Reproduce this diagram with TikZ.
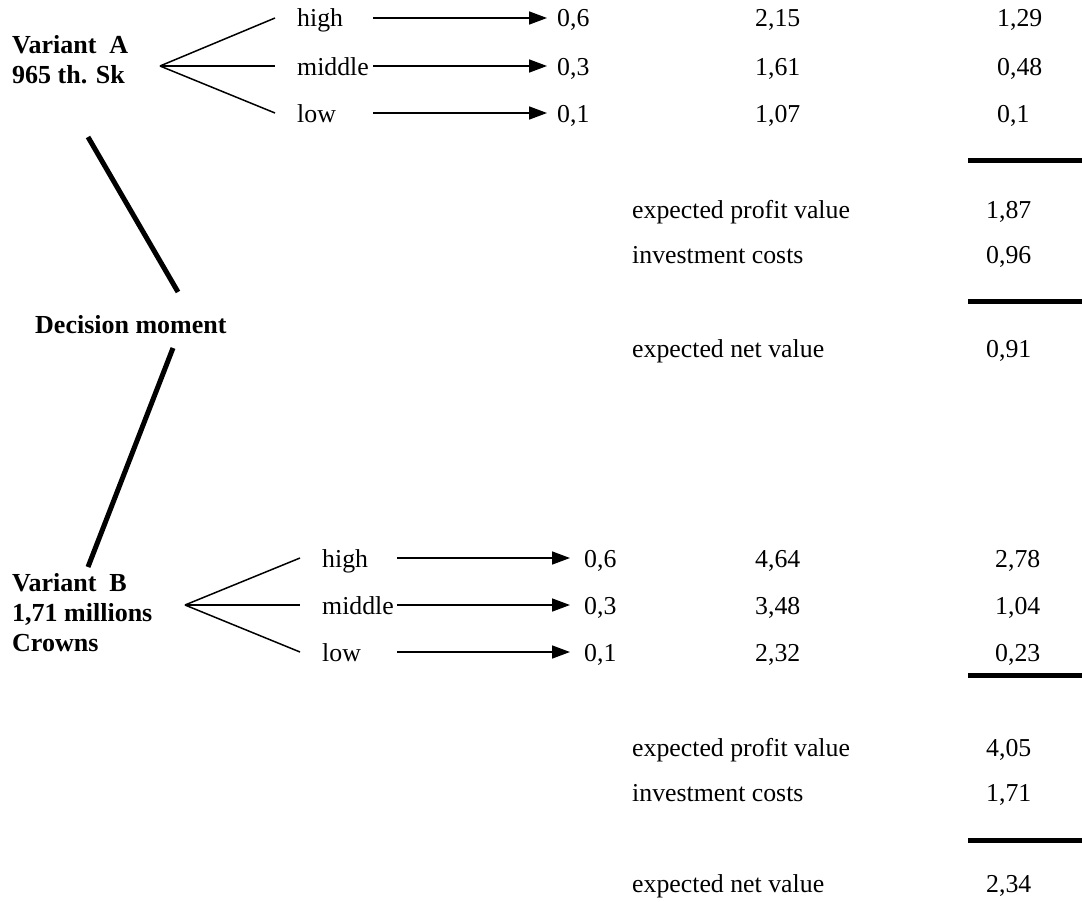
\documentclass[tikz,border=0pt]{standalone}
\usepackage{fontspec}
\setmainfont{Liberation Serif}
\usetikzlibrary{arrows.meta}
\begin{document}
\begin{tikzpicture}[x=1pt,y=-1pt,
  every node/.style={inner sep=0pt, font=\fontsize{25.8}{30}\selectfont},
  lbl/.style={anchor=base west},
  boldlbl/.style={anchor=base west, font=\fontsize{26}{30}\selectfont\bfseries},
  cell/.style={anchor=west, text height=20pt, text depth=2pt},
  prob/.style={cell, inner xsep=10pt},
  fork/.style={line width=1.5pt},
  arr/.style={line width=1.6pt, -{Triangle[length=18pt,width=13pt]}},
  thick line/.style={line width=5pt},
  rulebar/.style={line width=5pt}
]
\useasboundingbox (0,0) rectangle (1082,902);

% ---------- Variant A ----------
\node[boldlbl] (vA1) at (12,53) {Variant\ \ A};
\node[boldlbl] (vA2) at (12,83) {965 th. Sk};
\coordinate (apA) at (160,66);
\coordinate (fA1) at (275,18);
\coordinate (fA2) at (275,66);
\coordinate (fA3) at (275,113);
\draw[fork] (apA) -- (fA1);
\draw[fork] (apA) -- (fA2);
\draw[fork] (apA) -- (fA3);

\node[cell] (hA) at (297,18) {\makebox[76pt][l]{high}};
\node[cell] (mA) at (297,66) {\makebox[76pt][l]{middle}};
\node[cell] (lA) at (297,113) {\makebox[76pt][l]{low}};
\node[prob] (phA) at (547,18) {0,6};
\node[prob] (pmA) at (547,66) {0,3};
\node[prob] (plA) at (547,113) {0,1};
\draw[arr] (hA.east) -- (phA.west);
\draw[arr] (mA.east) -- (pmA.west);
\draw[arr] (lA.east) -- (plA.west);

\node[cell] (vhA) at (755,18) {2,15};
\node[cell] (vmA) at (755,66) {1,61};
\node[cell] (vlA) at (755,113) {1,07};
\node[cell] (ehA) at (997,18) {1,29};
\node[cell] (emA) at (997,66) {0,48};
\node[cell] (elA) at (997,113) {0,1};

\coordinate (rA1s) at (968,160);
\coordinate (rA1e) at (1082,160);
\draw[rulebar] (rA1s) -- (rA1e);
\node[lbl] (epA) at (632,218) {expected profit value};
\node[lbl] (epAv) at (986,218) {1,87};
\node[lbl] (icA) at (632,263) {investment costs};
\node[lbl] (icAv) at (986,263) {0,96};
\coordinate (rA2s) at (968,301);
\coordinate (rA2e) at (1082,301);
\draw[rulebar] (rA2s) -- (rA2e);
\node[lbl] (nvA) at (632,357) {expected net value};
\node[lbl] (nvAv) at (986,357) {0,91};

% ---------- Decision moment ----------
\node[boldlbl] (dm) at (35,333) {Decision moment};
\coordinate (t1) at (88,137);
\coordinate (t2) at (178,292);
\coordinate (t3) at (173,348);
\coordinate (t4) at (88,567);
\draw[thick line] (t1) -- (t2);
\draw[thick line] (t3) -- (t4);

% ---------- Variant B ----------
\node[boldlbl] (vB1) at (12,591) {Variant\ \ B};
\node[boldlbl] (vB2) at (12,621) {1,71 millions};
\node[boldlbl] (vB3) at (12,651) {Crowns};
\coordinate (apB) at (185,605);
\coordinate (fB1) at (300,558);
\coordinate (fB2) at (300,605);
\coordinate (fB3) at (300,652);
\draw[fork] (apB) -- (fB1);
\draw[fork] (apB) -- (fB2);
\draw[fork] (apB) -- (fB3);

\node[cell] (hB) at (322,558) {\makebox[75pt][l]{high}};
\node[cell] (mB) at (322,605) {\makebox[75pt][l]{middle}};
\node[cell] (lB) at (322,652) {\makebox[75pt][l]{low}};
\node[prob, inner xsep=14pt] (phB) at (570,558) {0,6};
\node[prob, inner xsep=14pt] (pmB) at (570,605) {0,3};
\node[prob, inner xsep=14pt] (plB) at (570,652) {0,1};
\draw[arr] (hB.east) -- (phB.west);
\draw[arr] (mB.east) -- (pmB.west);
\draw[arr] (lB.east) -- (plB.west);

\node[cell] (vhB) at (755,558) {4,64};
\node[cell] (vmB) at (755,605) {3,48};
\node[cell] (vlB) at (755,652) {2,32};
\node[cell] (ehB) at (995,558) {2,78};
\node[cell] (emB) at (995,605) {1,04};
\node[cell] (elB) at (995,652) {0,23};

\coordinate (rB1s) at (968,675);
\coordinate (rB1e) at (1082,675);
\draw[rulebar] (rB1s) -- (rB1e);
\node[lbl] (epB) at (632,756) {expected profit value};
\node[lbl] (epBv) at (986,756) {4,05};
\node[lbl] (icB) at (632,801) {investment costs};
\node[lbl] (icBv) at (986,801) {1,71};
\coordinate (rB2s) at (968,840);
\coordinate (rB2e) at (1082,840);
\draw[rulebar] (rB2s) -- (rB2e);
\node[lbl] (nvB) at (632,892) {expected net value};
\node[lbl] (nvBv) at (986,892) {2,34};
\end{tikzpicture}
\end{document}
